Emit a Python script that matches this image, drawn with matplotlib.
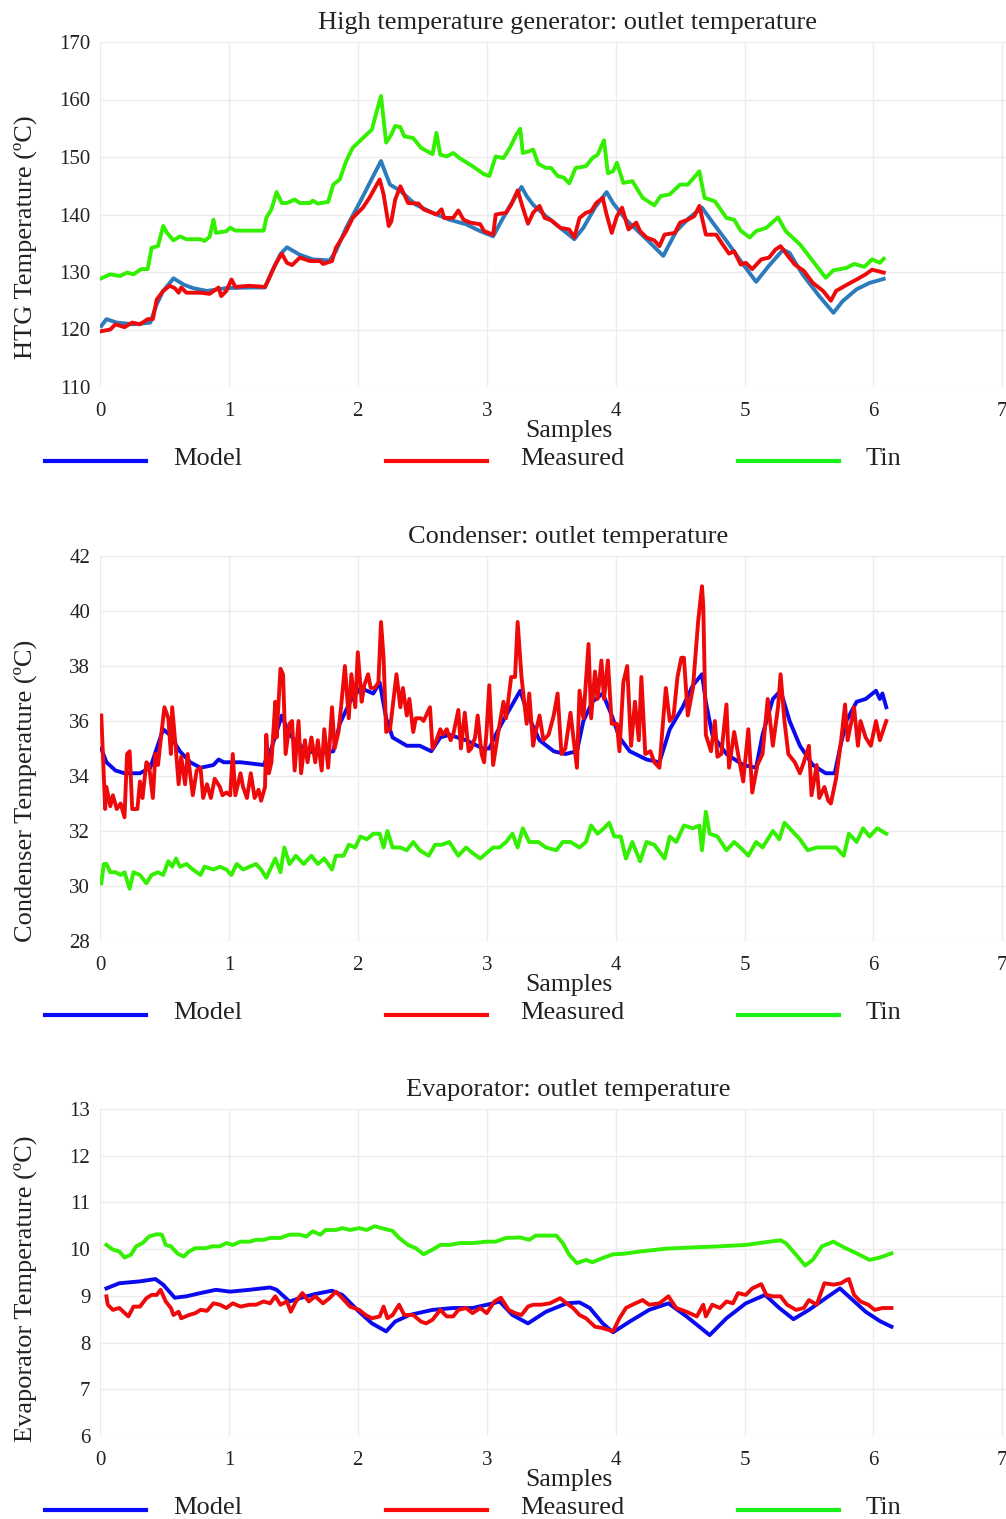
import numpy as np
import matplotlib
matplotlib.use("Agg")
from matplotlib import pyplot as plt
from matplotlib.lines import Line2D

plt.rcParams['font.family'] = ['Liberation Serif', 'DejaVu Serif']

# (sample, temperature) readings for each loop
htg_tin = [(0.01,128.9),(0.08,129.6),(0.155,129.3),(0.21,129.9),(0.26,129.6),(0.32,130.5),(0.37,130.5),
           (0.40,134.2),(0.45,134.5),(0.49,138.0),(0.52,136.8),(0.57,135.5),(0.62,136.2),(0.67,135.7),
           (0.78,135.7),(0.81,135.4),(0.85,136.1),(0.88,139.1),(0.90,136.8),(0.98,137.1),(1.01,137.7),
           (1.05,137.2),(1.27,137.2),(1.29,139.4),(1.33,140.9),(1.37,143.9),(1.41,142.0),(1.45,142.0),
           (1.51,142.6),(1.55,142.0),(1.63,142.0),(1.65,142.4),(1.69,141.9),(1.77,142.2),(1.81,145.2),
           (1.86,146.1),(1.91,149.3),(1.96,151.6),(2.04,153.3),(2.11,154.8),(2.14,157.4),(2.18,160.6),
           (2.22,152.5),(2.26,153.9),(2.29,155.4),(2.33,155.2),(2.36,153.6),(2.43,153.3),(2.49,151.6),
           (2.58,150.5),(2.61,154.2),(2.64,150.4),(2.69,150.1),(2.74,150.7),(2.79,149.8),(2.89,148.4),
           (2.98,147.0),(3.02,146.7),(3.07,150.1),(3.13,149.8),(3.18,151.6),(3.23,153.9),(3.26,154.9),
           (3.28,150.7),(3.33,151.0),(3.36,151.3),(3.40,148.8),(3.46,148.1),(3.50,148.1),(3.55,146.7),
           (3.60,146.4),(3.64,145.4),(3.69,148.1),(3.77,148.4),(3.82,149.8),(3.86,150.4),(3.91,152.9),
           (3.94,147.2),(3.98,147.5),(4.01,149.0),(4.06,145.5),(4.13,145.8),(4.21,142.9),(4.30,141.6),
           (4.35,143.2),(4.42,143.5),(4.50,145.2),(4.56,145.2),(4.65,147.5),(4.69,142.9),(4.77,142.3),
           (4.86,139.4),(4.92,139.1),(4.97,137.2),(5.04,136.0),(5.09,137.1),(5.17,137.7),(5.26,139.5),
           (5.32,137.1),(5.43,134.8),(5.53,131.9),(5.63,129.0),(5.69,130.3),(5.79,130.7),(5.85,131.4),
           (5.93,130.9),(5.99,132.2),(6.05,131.6),(6.08,132.3)]

htg_meas = [(0.01,119.7),(0.08,120.0),(0.12,120.9),(0.19,120.4),(0.25,121.2),(0.31,120.9),(0.37,121.8),
            (0.41,121.8),(0.44,125.2),(0.49,126.7),(0.54,127.6),(0.58,127.2),(0.61,126.4),(0.63,127.3),
            (0.67,126.4),(0.78,126.4),(0.85,126.2),(0.92,127.3),(0.94,125.8),(0.98,126.7),(1.02,128.7),
            (1.05,127.4),(1.16,127.6),(1.28,127.4),(1.32,129.3),(1.36,131.3),(1.41,133.2),(1.45,131.6),
            (1.49,131.2),(1.55,132.5),(1.63,131.9),(1.71,131.9),(1.73,131.4),(1.80,131.9),(1.83,134.2),
            (1.91,137.1),(1.96,139.4),(2.04,141.2),(2.09,142.9),(2.14,144.9),(2.17,146.1),(2.20,143.5),
            (2.24,138.0),(2.26,138.8),(2.29,142.6),(2.33,144.9),(2.36,143.5),(2.39,142.0),(2.47,141.9),
            (2.51,140.9),(2.61,140.0),(2.65,140.9),(2.67,139.4),(2.74,139.4),(2.78,140.7),(2.82,139.1),
            (2.87,138.6),(2.95,138.3),(2.98,137.1),(3.05,136.5),(3.07,140.0),(3.15,140.3),(3.19,141.7),
            (3.24,144.2),(3.28,141.2),(3.32,138.4),(3.36,140.3),(3.41,141.5),(3.45,139.4),(3.50,139.0),
            (3.57,137.7),(3.64,137.4),(3.68,136.0),(3.72,139.4),(3.77,140.3),(3.81,140.6),(3.85,142.0),
            (3.90,142.9),(3.93,140.0),(3.97,136.8),(4.01,139.7),(4.05,141.2),(4.10,137.4),(4.16,138.6),
            (4.19,137.1),(4.24,136.0),(4.30,135.5),(4.34,134.5),(4.38,136.5),(4.46,136.8),(4.50,138.6),
            (4.56,139.1),(4.61,139.7),(4.65,141.5),(4.70,136.5),(4.78,136.5),(4.83,134.8),(4.88,133.2),
            (4.92,133.6),(4.97,131.3),(5.01,131.6),(5.06,130.5),(5.13,132.2),(5.19,132.5),(5.24,133.9),
            (5.28,134.5),(5.33,133.0),(5.39,131.3),(5.46,130.2),(5.53,128.1),(5.61,126.7),(5.67,125.0),
            (5.71,126.7),(5.78,127.6),(5.87,128.7),(5.94,129.6),(5.99,130.4),(6.08,129.9)]

htg_model = [(0.01,120.6),(0.05,121.8),(0.13,121.2),(0.26,120.9),(0.39,121.2),(0.44,124.4),(0.49,126.7),
             (0.57,128.9),(0.65,127.8),(0.72,127.2),(0.83,126.7),(0.98,127.2),(1.16,127.3),(1.28,127.3),
             (1.33,129.9),(1.40,133.1),(1.45,134.3),(1.55,133.0),(1.65,132.2),(1.78,132.0),(1.83,133.6),
             (1.91,137.7),(2.02,142.3),(2.12,146.7),(2.18,149.3),(2.21,147.5),(2.25,145.2),(2.33,144.1),
             (2.45,141.7),(2.58,140.3),(2.71,139.1),(2.84,138.3),(2.95,137.1),(3.05,136.2),(3.10,138.3),
             (3.18,141.5),(3.27,144.8),(3.31,143.2),(3.36,141.7),(3.46,139.7),(3.57,137.7),(3.68,135.7),
             (3.75,137.7),(3.84,141.2),(3.93,143.9),(3.98,142.0),(4.08,139.1),(4.24,135.7),(4.37,132.8),
             (4.47,137.1),(4.57,139.4),(4.67,141.2),(4.76,138.4),(4.86,135.4),(4.99,131.3),(5.09,128.3),
             (5.19,131.1),(5.30,133.9),(5.35,133.3),(5.45,129.6),(5.58,125.8),(5.69,122.9),(5.76,124.9),
             (5.87,127.0),(5.97,128.1),(6.08,128.8)]

cond_meas = [(0.01,36.2),(0.04,32.8),(0.05,33.6),(0.08,32.9),(0.10,33.3),(0.13,32.8),(0.16,33.0),(0.19,32.5),
             (0.21,34.8),(0.23,34.9),(0.25,32.8),(0.29,32.8),(0.31,33.8),(0.33,33.2),(0.36,34.5),(0.38,34.4),
             (0.41,33.2),(0.43,34.8),(0.45,34.4),(0.48,35.7),(0.50,36.5),(0.53,36.1),(0.55,34.8),(0.56,36.5),
             (0.59,34.9),(0.61,33.7),(0.63,34.7),(0.66,33.7),(0.68,34.8),(0.72,33.3),(0.75,34.2),(0.78,34.3),
             (0.80,33.2),(0.83,33.7),(0.86,33.2),(0.89,33.9),(0.93,33.6),(0.95,33.3),(0.98,33.4),(1.01,33.3),
             (1.03,34.8),(1.05,33.3),(1.09,34.1),(1.11,33.6),(1.14,33.2),(1.17,34.1),(1.20,33.2),(1.23,33.5),
             (1.25,33.1),(1.28,33.6),(1.29,35.5),(1.31,34.1),(1.33,34.5),(1.36,36.7),(1.37,35.4),(1.40,37.9),
             (1.42,37.7),(1.44,34.8),(1.47,35.9),(1.49,36.0),(1.51,34.2),(1.54,36.0),(1.56,34.1),(1.59,35.3),
             (1.61,34.5),(1.64,35.4),(1.67,34.5),(1.69,35.3),(1.72,34.2),(1.74,35.7),(1.77,34.3),(1.80,36.5),
             (1.82,35.0),(1.85,35.6),(1.87,36.5),(1.90,38.0),(1.93,36.1),(1.95,37.7),(1.98,36.5),(2.00,38.5),
             (2.03,36.7),(2.05,37.3),(2.08,37.7),(2.10,37.2),(2.13,37.2),(2.16,37.4),(2.18,39.6),(2.20,38.3),
             (2.22,35.6),(2.25,35.7),(2.27,36.5),(2.30,37.7),(2.33,36.5),(2.35,37.2),(2.38,36.2),(2.40,36.8),
             (2.43,35.6),(2.45,36.1),(2.49,36.1),(2.51,36.0),(2.53,36.2),(2.56,36.5),(2.58,35.0),(2.61,35.3),
             (2.64,35.7),(2.66,35.5),(2.69,35.7),(2.72,35.3),(2.74,35.5),(2.78,36.4),(2.80,35.0),(2.83,36.3),
             (2.86,34.9),(2.88,35.0),(2.91,35.4),(2.93,36.2),(2.96,34.8),(2.98,34.5),(3.00,35.7),(3.02,37.3),
             (3.05,34.4),(3.09,35.6),(3.13,36.7),(3.15,36.1),(3.19,37.6),(3.22,37.6),(3.24,39.6),(3.27,37.6),
             (3.31,35.9),(3.33,37.0),(3.36,35.1),(3.38,35.6),(3.41,36.2),(3.44,35.3),(3.48,35.5),(3.52,36.2),
             (3.55,37.0),(3.58,34.8),(3.61,35.0),(3.65,36.3),(3.67,35.5),(3.70,34.3),(3.72,37.1),(3.75,36.1),
             (3.79,38.8),(3.81,36.1),(3.84,37.8),(3.86,36.8),(3.89,38.2),(3.91,36.8),(3.94,38.2),(3.97,35.9),
             (4.01,35.9),(4.03,34.9),(4.06,37.4),(4.09,38.0),(4.12,35.1),(4.15,36.7),(4.18,35.3),(4.20,37.6),
             (4.23,34.8),(4.27,34.9),(4.30,34.5),(4.34,34.3),(4.37,36.1),(4.39,37.2),(4.42,36.0),(4.45,36.2),
             (4.48,37.6),(4.51,38.3),(4.53,38.3),(4.56,36.2),(4.60,37.2),(4.64,39.6),(4.67,40.9),(4.68,40.2),
             (4.70,35.5),(4.74,34.9),(4.77,36.0),(4.79,34.7),(4.82,34.8),(4.86,36.6),(4.88,34.3),(4.92,35.6),
             (4.95,34.8),(4.99,33.8),(5.03,35.7),(5.06,33.4),(5.10,34.4),(5.14,34.8),(5.18,36.8),(5.22,35.1),
             (5.26,36.5),(5.28,37.7),(5.31,36.0),(5.34,34.8),(5.39,34.5),(5.43,34.1),(5.46,34.5),(5.50,35.1),
             (5.52,33.3),(5.56,34.4),(5.58,33.2),(5.62,33.6),(5.65,33.1),(5.67,33.0),(5.71,33.9),(5.75,35.3),
             (5.78,36.6),(5.80,35.3),(5.83,36.0),(5.85,36.5),(5.88,35.1),(5.90,36.0),(5.94,35.4),(5.98,35.1),
             (6.02,36.0),(6.05,35.3),(6.10,36.0)]

cond_model = [(0.01,35.0),(0.05,34.5),(0.12,34.2),(0.19,34.1),(0.31,34.1),(0.39,34.3),(0.44,35.0),(0.49,35.7),
              (0.54,35.5),(0.62,34.9),(0.70,34.5),(0.78,34.3),(0.88,34.4),(0.92,34.6),(0.96,34.5),(1.09,34.5),
              (1.27,34.4),(1.33,35.0),(1.41,36.2),(1.47,35.5),(1.58,35.0),(1.68,34.8),(1.81,34.9),(1.86,35.9),
              (1.94,36.7),(2.02,37.2),(2.12,37.0),(2.17,37.4),(2.22,36.1),(2.27,35.4),(2.38,35.1),(2.48,35.1),
              (2.57,34.9),(2.64,35.4),(2.71,35.5),(2.84,35.3),(2.97,35.0),(3.02,35.0),(3.07,35.5),(3.15,36.2),
              (3.26,37.1),(3.33,36.1),(3.41,35.3),(3.52,34.9),(3.61,34.8),(3.70,34.9),(3.75,36.0),(3.82,36.7),
              (3.90,37.0),(3.97,36.2),(4.03,35.4),(4.11,34.9),(4.24,34.6),(4.34,34.5),(4.42,35.7),(4.52,36.5),
              (4.60,37.3),(4.67,37.7),(4.70,36.7),(4.75,35.5),(4.86,34.8),(4.99,34.4),(5.09,34.3),(5.14,35.5),
              (5.22,36.8),(5.28,37.1),(5.35,36.0),(5.43,35.1),(5.53,34.4),(5.63,34.1),(5.70,34.1),(5.74,35.0),
              (5.79,36.0),(5.87,36.7),(5.94,36.8),(6.02,37.1),(6.05,36.8),(6.07,37.0),(6.10,36.5)]

cond_tin = [(0.01,30.1),(0.03,30.8),(0.05,30.8),(0.08,30.5),(0.12,30.5),(0.16,30.4),(0.19,30.5),(0.23,29.9),
            (0.26,30.5),(0.31,30.4),(0.36,30.1),(0.40,30.4),(0.45,30.5),(0.49,30.4),(0.53,30.9),(0.56,30.7),
            (0.59,31.0),(0.62,30.7),(0.67,30.8),(0.72,30.6),(0.78,30.4),(0.81,30.7),(0.88,30.6),(0.93,30.7),
            (0.98,30.6),(1.02,30.4),(1.06,30.8),(1.11,30.6),(1.16,30.7),(1.21,30.8),(1.25,30.6),(1.29,30.3),
            (1.33,30.7),(1.36,31.0),(1.40,30.5),(1.43,31.4),(1.47,30.8),(1.52,31.1),(1.58,30.8),(1.64,31.1),
            (1.69,30.8),(1.74,31.0),(1.80,30.6),(1.83,31.1),(1.89,31.1),(1.93,31.5),(1.98,31.4),(2.02,31.8),
            (2.07,31.7),(2.12,31.9),(2.17,31.9),(2.20,31.4),(2.23,32.0),(2.27,31.4),(2.33,31.4),(2.38,31.3),
            (2.43,31.6),(2.48,31.3),(2.55,31.1),(2.60,31.5),(2.65,31.5),(2.71,31.6),(2.78,31.1),(2.84,31.4),
            (2.89,31.2),(2.95,31.0),(3.00,31.2),(3.05,31.4),(3.10,31.4),(3.15,31.6),(3.20,31.9),(3.24,31.4),
            (3.28,32.1),(3.33,31.6),(3.40,31.6),(3.46,31.4),(3.54,31.3),(3.59,31.6),(3.65,31.6),(3.72,31.4),
            (3.77,31.6),(3.81,32.2),(3.86,31.9),(3.91,32.1),(3.95,32.3),(3.99,31.8),(4.04,31.8),(4.08,31.0),
            (4.13,31.6),(4.19,30.9),(4.24,31.6),(4.30,31.5),(4.38,31.0),(4.42,31.8),(4.47,31.6),(4.53,32.2),
            (4.60,32.1),(4.65,32.2),(4.67,31.3),(4.70,32.7),(4.73,31.9),(4.79,31.8),(4.86,31.3),(4.92,31.6),
            (4.99,31.3),(5.03,31.1),(5.09,31.6),(5.14,31.4),(5.22,32.0),(5.27,31.7),(5.31,32.3),(5.37,32.0),
            (5.43,31.7),(5.49,31.3),(5.56,31.4),(5.63,31.4),(5.71,31.4),(5.77,31.1),(5.81,31.9),(5.87,31.6),
            (5.92,32.1),(5.97,31.8),(6.03,32.1),(6.10,31.9)]

evap_model = [(0.05,9.16),(0.15,9.27),(0.31,9.31),(0.43,9.36),(0.49,9.24),(0.58,8.96),(0.67,8.99),(0.78,9.06),
              (0.90,9.13),(1.01,9.09),(1.16,9.13),(1.32,9.18),(1.37,9.13),(1.47,8.88),(1.55,8.95),(1.67,9.04),
              (1.80,9.11),(1.88,9.02),(2.01,8.66),(2.11,8.41),(2.22,8.24),(2.29,8.45),(2.40,8.59),(2.58,8.70),
              (2.74,8.74),(2.89,8.74),(3.05,8.84),(3.10,8.88),(3.20,8.59),(3.32,8.41),(3.46,8.66),(3.62,8.84),
              (3.72,8.86),(3.80,8.74),(3.90,8.41),(3.98,8.22),(4.11,8.45),(4.26,8.70),(4.41,8.84),(4.55,8.56),
              (4.73,8.16),(4.86,8.52),(5.01,8.84),(5.16,9.02),(5.27,8.74),(5.38,8.50),(5.50,8.70),(5.63,8.95),
              (5.74,9.16),(5.84,8.91),(5.94,8.66),(6.05,8.46),(6.14,8.34)]

evap_meas = [(0.05,8.99),(0.06,8.81),(0.10,8.70),(0.15,8.74),(0.22,8.56),(0.26,8.77),(0.31,8.77),(0.36,8.95),
             (0.40,9.02),(0.44,9.02),(0.47,9.13),(0.51,8.88),(0.55,8.74),(0.57,8.59),(0.61,8.66),(0.63,8.52),
             (0.69,8.59),(0.74,8.63),(0.78,8.70),(0.83,8.68),(0.88,8.84),(0.93,8.81),(0.98,8.74),(1.03,8.84),
             (1.09,8.77),(1.16,8.81),(1.21,8.81),(1.27,8.88),(1.32,8.84),(1.36,8.99),(1.40,8.81),(1.45,8.88),
             (1.48,8.66),(1.52,8.88),(1.57,9.06),(1.62,8.88),(1.67,8.99),(1.73,8.84),(1.78,8.95),(1.83,9.09),
             (1.88,8.95),(1.94,8.77),(2.01,8.70),(2.06,8.59),(2.11,8.52),(2.17,8.56),(2.20,8.77),(2.23,8.52),
             (2.27,8.59),(2.32,8.81),(2.36,8.59),(2.43,8.59),(2.49,8.45),(2.53,8.41),(2.58,8.49),(2.64,8.70),
             (2.69,8.56),(2.74,8.56),(2.78,8.70),(2.84,8.74),(2.89,8.63),(2.95,8.74),(3.00,8.63),(3.06,8.88),
             (3.11,8.96),(3.17,8.70),(3.22,8.63),(3.27,8.59),(3.32,8.77),(3.36,8.81),(3.42,8.81),(3.49,8.84),
             (3.57,8.95),(3.62,8.84),(3.67,8.74),(3.72,8.59),(3.77,8.52),(3.84,8.34),(3.90,8.31),(3.98,8.24),
             (4.03,8.52),(4.08,8.74),(4.13,8.81),(4.21,8.91),(4.26,8.81),(4.34,8.84),(4.41,8.99),(4.47,8.74),
             (4.55,8.66),(4.63,8.56),(4.68,8.81),(4.70,8.56),(4.75,8.81),(4.81,8.74),(4.86,8.88),(4.91,8.84),
             (4.95,9.06),(5.01,9.02),(5.06,9.16),(5.13,9.25),(5.17,9.02),(5.22,8.99),(5.28,8.99),(5.33,8.81),
             (5.40,8.70),(5.46,8.74),(5.50,8.91),(5.56,8.81),(5.62,9.27),(5.69,9.24),(5.75,9.27),(5.79,9.34),
             (5.81,9.36),(5.85,9.02),(5.90,8.88),(5.96,8.81),(6.01,8.70),(6.07,8.74),(6.14,8.74)]

evap_tin = [(0.05,10.09),(0.10,9.99),(0.15,9.95),(0.19,9.82),(0.24,9.88),(0.28,10.06),(0.33,10.13),(0.38,10.27),
            (0.44,10.32),(0.48,10.31),(0.51,10.09),(0.55,10.06),(0.60,9.91),(0.65,9.84),(0.69,9.95),(0.74,10.02),
            (0.82,10.02),(0.87,10.06),(0.93,10.06),(0.98,10.13),(1.03,10.09),(1.09,10.16),(1.16,10.16),(1.21,10.20),
            (1.27,10.20),(1.32,10.24),(1.40,10.24),(1.47,10.31),(1.55,10.31),(1.60,10.27),(1.65,10.38),(1.71,10.31),
            (1.75,10.41),(1.83,10.41),(1.88,10.45),(1.94,10.41),(2.01,10.45),(2.07,10.41),(2.13,10.49),(2.20,10.44),
            (2.27,10.39),(2.32,10.24),(2.39,10.09),(2.45,10.02),(2.51,9.89),(2.58,9.99),(2.64,10.09),(2.71,10.09),
            (2.79,10.13),(2.89,10.13),(3.00,10.16),(3.07,10.16),(3.15,10.24),(3.26,10.25),(3.33,10.20),(3.38,10.29),
            (3.54,10.29),(3.59,10.13),(3.64,9.88),(3.70,9.70),(3.77,9.77),(3.82,9.72),(3.90,9.81),(3.98,9.89),
            (4.06,9.90),(4.19,9.95),(4.39,10.01),(4.63,10.04),(4.80,10.06),(5.01,10.09),(5.14,10.14),(5.28,10.19),
            (5.32,10.13),(5.40,9.88),(5.47,9.65),(5.53,9.77),(5.60,10.06),(5.69,10.16),(5.77,10.04),(5.87,9.91),
            (5.97,9.77),(6.05,9.82),(6.14,9.91)]

legend_names = ["Model", "Measured", "Tin"]

W, H = 1006, 1519
fig = plt.figure(figsize=(W / 100, H / 100), dpi=100)


def fx(px):
    return px / W


def fy(py):
    return 1 - py / H


c_blue = "#0a0aee"
c_steel = "#2b7bbd"
c_red = "#ee0a0a"
c_green = "#33f000"
lw = 2.8

panels = [
    dict(top=42, bottom=387, ylim=(110, 170), yticks=np.arange(110, 171, 10),
         title="High temperature generator: outlet temperature",
         ylabel="HTG Temperature (ºC)", ylab_y=237,
         series=[(htg_tin, c_green), (htg_model, c_steel), (htg_meas, c_red)]),
    dict(top=556, bottom=941, ylim=(28, 42), yticks=np.arange(28, 43, 2),
         title="Condenser: outlet temperature",
         ylabel="Condenser Temperature (ºC)", ylab_y=791,
         series=[(cond_tin, c_green), (cond_model, c_blue), (cond_meas, c_red)]),
    dict(top=1109, bottom=1436, ylim=(6, 13), yticks=np.arange(6, 14, 1),
         title="Evaporator: outlet temperature",
         ylabel="Evaporator Temperature (ºC)", ylab_y=1289,
         series=[(evap_tin, c_green), (evap_model, c_blue), (evap_meas, c_red)]),
]

left_px = 100
x_per_unit = 128.9

for p in panels:
    ax = fig.add_axes([fx(left_px), fy(p["bottom"]), fx(W - left_px),
                       (p["bottom"] - p["top"]) / H])
    for pts, col in p["series"]:
        xs, ys = np.array(pts).T
        ax.plot(xs, ys, color=col, lw=lw, solid_joinstyle="round")
    ax.set_xlim(0, (W - left_px) / x_per_unit)
    ax.set_ylim(*p["ylim"])
    ax.set_xticks(range(0, 8))
    ax.set_yticks(p["yticks"])
    ax.tick_params(length=0, labelsize=15, colors="#222222")
    ax.tick_params(axis="x", pad=11)
    ax.tick_params(axis="y", pad=7)
    ax.grid(True, color="#ececec", lw=1)
    ax.set_axisbelow(True)
    for s in ax.spines.values():
        s.set_visible(False)

    fig.text(fx(568), fy(p["top"] - 13), p["title"], ha="center", va="baseline",
             fontsize=19, color="#222222")
    fig.text(fx(25), fy(p["ylab_y"]), p["ylabel"], rotation=90, ha="center",
             va="center", fontsize=19, color="#222222")
    fig.text(fx(569), fy(p["bottom"] + 50), "Samples", ha="center", va="baseline",
             fontsize=18.5, color="#222222")

    # legend row under each panel
    ly = p["bottom"] + 74
    for (x0, x1, tx), name, col in zip([(45, 146, 173), (386, 487, 520), (738, 839, 866)],
                                       legend_names, ["#0a0aff", "#ff0a0a", "#1af01a"]):
        fig.add_artist(Line2D([fx(x0), fx(x1)], [fy(ly), fy(ly)], color=col, lw=3,
                              transform=fig.transFigure))
        fig.text(fx(tx), fy(ly + 4), name, ha="left", va="baseline", fontsize=19,
                 color="#222222")

fig.savefig("out.png", dpi=100)
